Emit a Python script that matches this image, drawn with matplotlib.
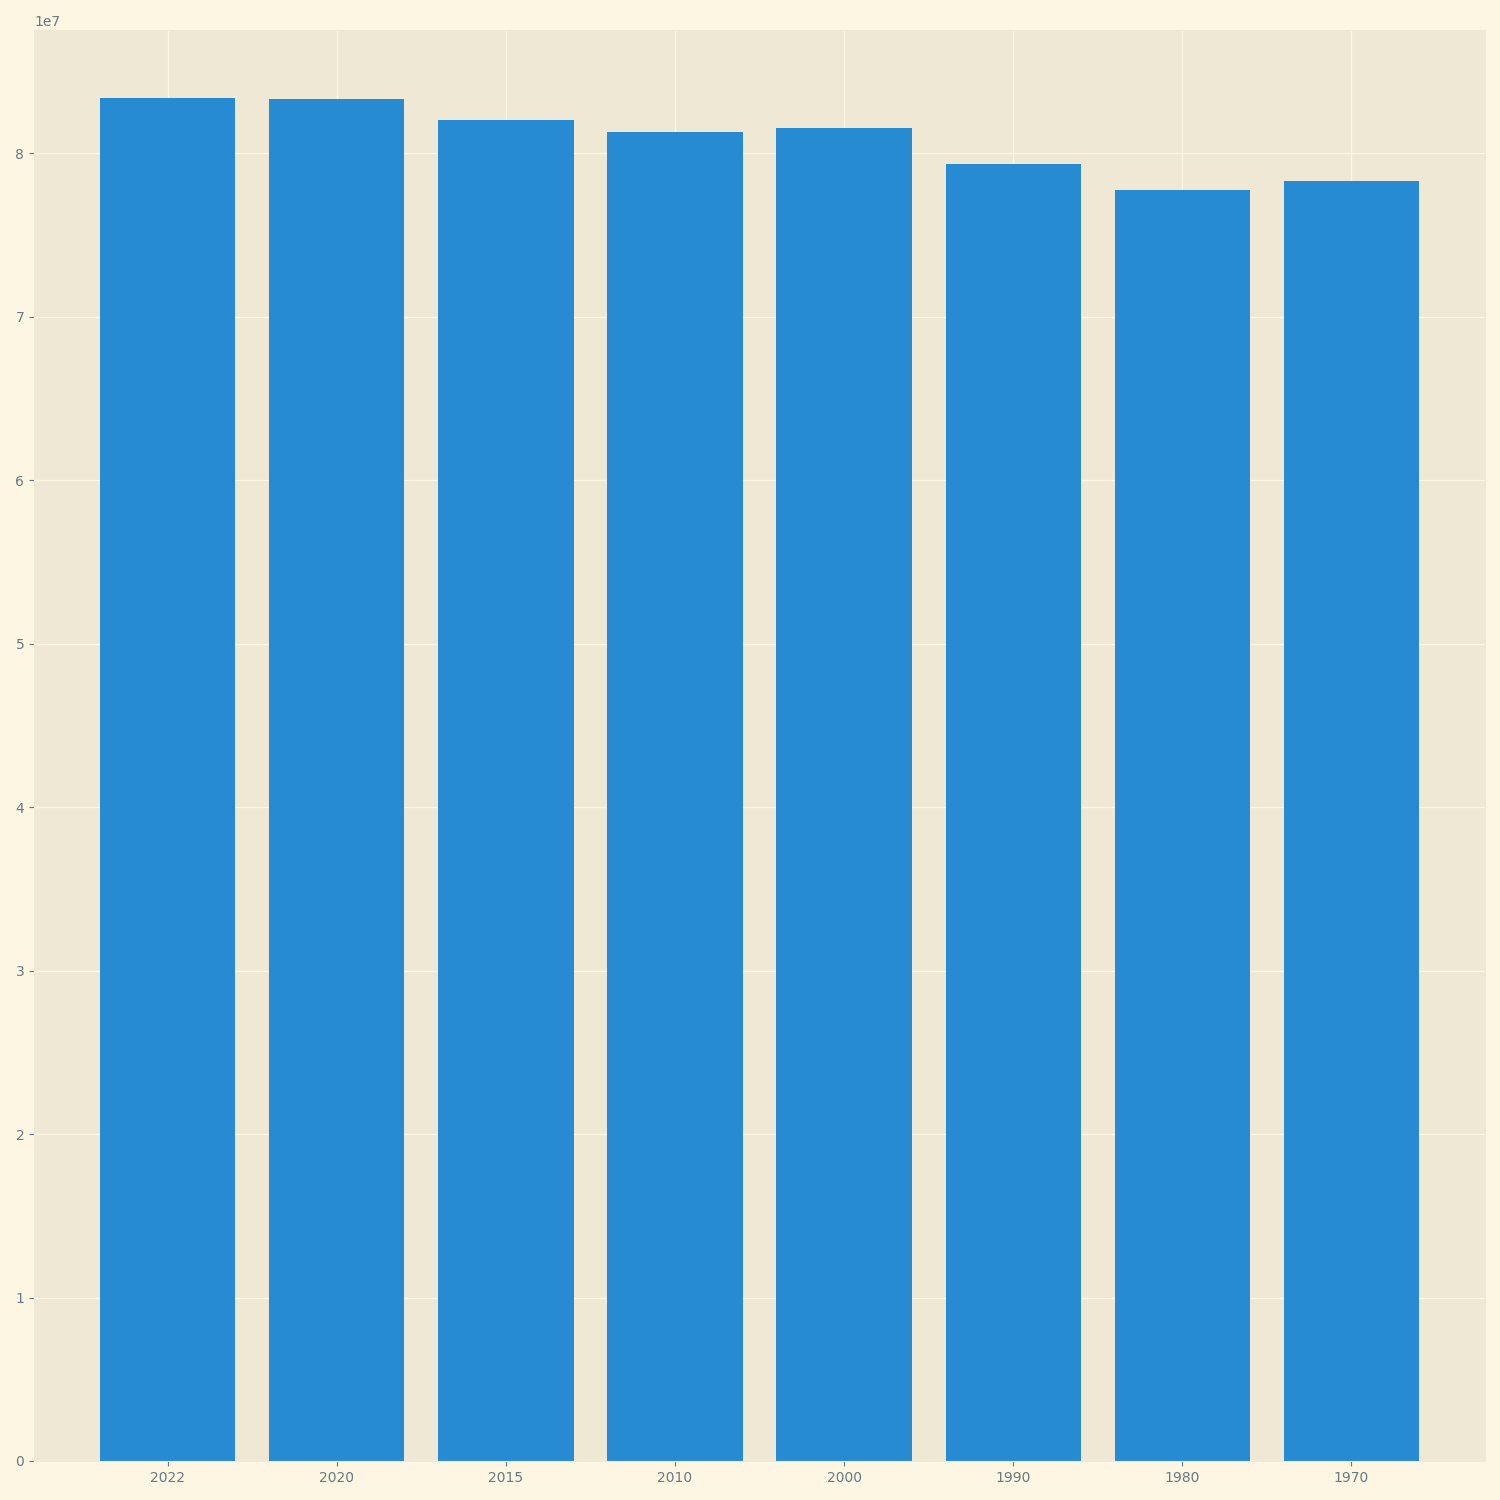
import matplotlib
matplotlib.use("Agg")
import matplotlib.pyplot as plt

plt.style.use("Solarize_Light2")

years = ["2022", "2020", "2015", "2010", "2000", "1990", "1980", "1970"]
population = [83.36e6, 83.30e6, 82.02e6, 81.28e6, 81.53e6, 79.33e6, 77.74e6, 78.29e6]

fig, ax = plt.subplots(figsize=(15, 15), dpi=100)
ax.bar(years, population, color="#268bd2")
fig.subplots_adjust(left=0.0227, right=0.9900, top=0.98, bottom=0.026)
fig.savefig("out.png")
